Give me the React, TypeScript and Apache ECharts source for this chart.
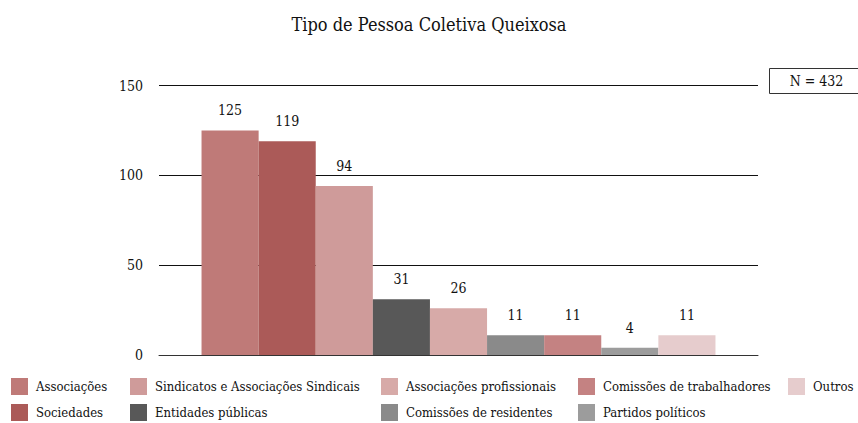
import React, { useEffect, useRef } from "react";
import * as echarts from "echarts";

const seriesNames = [
  "Associações",
  "Sociedades",
  "Sindicatos e Associações Sindicais",
  "Entidades públicas",
  "Associações profissionais",
  "Comissões de residentes",
  "Comissões de trabalhadores",
  "Partidos políticos",
  "Outros",
];
const seriesValues = [125, 119, 94, 31, 26, 11, 11, 4, 11];
const seriesColors = [
  "#bf7a78",
  "#ab5a58",
  "#cf9b9a",
  "#585858",
  "#d7aaa8",
  "#8a8a8a",
  "#c48282",
  "#9c9c9c",
  "#e6cccd",
];
const legendColumns = [
  ["Associações", "Sociedades"],
  ["Sindicatos e Associações Sindicais", "Entidades públicas"],
  ["Associações profissionais", "Comissões de residentes"],
  ["Comissões de trabalhadores", "Partidos políticos"],
  ["Outros"],
];
const legendX = [11, 130, 381, 578, 788];
const yTicks = { min: 0, max: 150, interval: 50 };
const titleText = "Tipo de Pessoa Coletiva Queixosa";
const nText = "N = 432";

const FONT = "DejaVu Serif Condensed, DejaVu Serif";

export default function App() {
  const ref = useRef<HTMLDivElement>(null);
  useEffect(() => {
    document.body.style.margin = "0";
    if (!ref.current) return;
    const chart = echarts.init(ref.current, undefined, { renderer: "svg" });
    const option: any = {
      animation: false,
      backgroundColor: "#ffffff",
      textStyle: { fontFamily: FONT },
      title: {
        text: titleText,
        left: "center",
        top: 10,
        textStyle: { fontFamily: FONT, fontSize: 18, fontWeight: "normal", color: "#111" },
      },
      grid: { left: 159, right: 100, top: 85.5, bottom: 68, containLabel: false },
      xAxis: {
        type: "category",
        data: [""],
        axisLine: { show: true, lineStyle: { color: "#333", width: 1 } },
        axisTick: { show: false },
        axisLabel: { show: false },
      },
      yAxis: {
        type: "value",
        min: yTicks.min,
        max: yTicks.max,
        interval: yTicks.interval,
        axisLine: { show: false },
        axisTick: { show: false },
        axisLabel: { fontFamily: FONT, fontSize: 14, color: "#111", margin: 16 },
        splitLine: { show: true, lineStyle: { color: "#111", width: 1 } },
      },
      legend: legendColumns.map((col, i) => ({
        data: col,
        orient: "vertical",
        left: legendX[i],
        top: 378,
        padding: 0,
        itemWidth: 17,
        itemHeight: 17,
        itemGap: 9,
        icon: "rect",
        selectedMode: false,
        textStyle: { fontFamily: FONT, fontSize: 13, color: "#111", padding: [0, 0, 0, 3] },
      })),
      series: seriesNames.map((name, i) => ({
        type: "bar",
        name,
        data: [seriesValues[i]],
        barGap: "0%",
        barCategoryGap: "14.2%",
        itemStyle: { color: seriesColors[i] },
        label: {
          show: true,
          position: "top",
          distance: 13,
          fontFamily: FONT,
          fontSize: 14,
          color: "#111",
        },
      })),
      graphic: [
        {
          type: "group",
          left: 769,
          top: 68,
          children: [
            {
              type: "rect",
              shape: { x: 0, y: 0, width: 100, height: 25 },
              style: { fill: "#fff", stroke: "#333", lineWidth: 1 },
            },
            {
              type: "text",
              x: 47,
              y: 12.5,
              style: {
                text: nText,
                fontFamily: FONT,
                fontSize: 14,
                fill: "#111",
                align: "center",
                verticalAlign: "middle",
              },
            },
          ],
        },
      ],
    };
    chart.setOption(option);
    return () => chart.dispose();
  }, []);
  return <div ref={ref} style={{ width: 858, height: 423 }} />;
}
